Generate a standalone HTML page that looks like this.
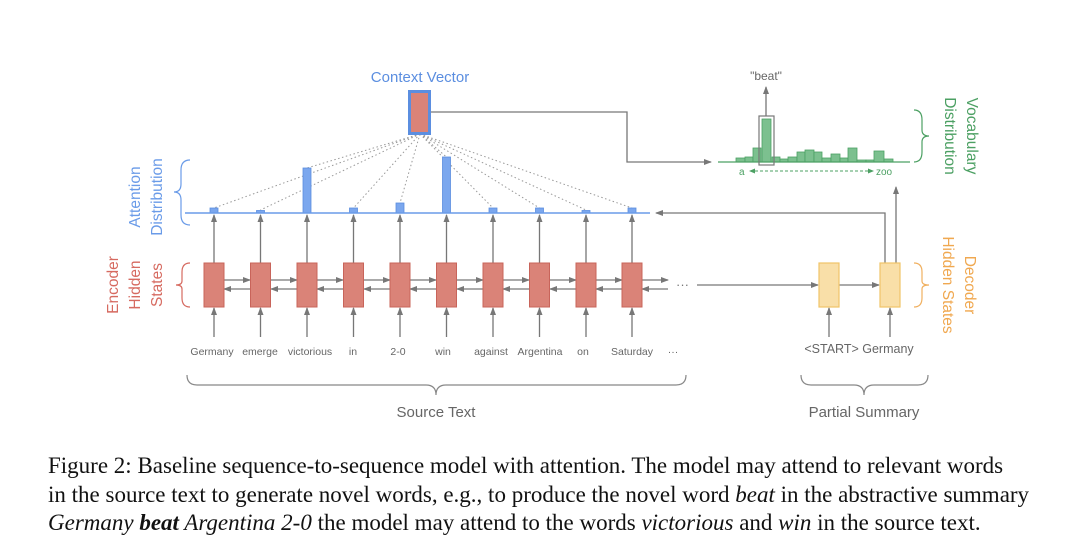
<!DOCTYPE html>
<html><head><meta charset="utf-8"><style>
body{margin:0;background:#fff;width:1080px;height:559px;overflow:hidden;}
svg{position:absolute;left:0;top:0;}
.cap{position:absolute;left:48px;top:452px;font-family:"Liberation Serif",serif;font-size:23px;line-height:28.5px;color:#111;white-space:nowrap;}
</style></head><body>
<svg width="1080" height="559" viewBox="0 0 1080 559" font-family="Liberation Sans, sans-serif">
<defs>
<marker id="a" markerWidth="8" markerHeight="8" refX="7" refY="4" orient="auto" markerUnits="userSpaceOnUse"><path d="M0,1 L8,4 L0,7 z" fill="#777"/></marker>
<marker id="g" markerWidth="6" markerHeight="6" refX="5" refY="3" orient="auto" markerUnits="userSpaceOnUse"><path d="M0,0.5 L6,3 L0,5.5 z" fill="#4ca063"/></marker>
<marker id="gs" markerWidth="6" markerHeight="6" refX="1" refY="3" orient="auto" markerUnits="userSpaceOnUse"><path d="M6,0.5 L0,3 L6,5.5 z" fill="#4ca063"/></marker>
</defs>
<g stroke="#777" stroke-width="1.3" fill="none">
<g marker-end="url(#a)">
<line x1="214" y1="337" x2="214" y2="308"/><line x1="260.5" y1="337" x2="260.5" y2="308"/><line x1="307" y1="337" x2="307" y2="308"/><line x1="353.5" y1="337" x2="353.5" y2="308"/><line x1="400" y1="337" x2="400" y2="308"/><line x1="446.5" y1="337" x2="446.5" y2="308"/><line x1="493" y1="337" x2="493" y2="308"/><line x1="539.5" y1="337" x2="539.5" y2="308"/><line x1="586" y1="337" x2="586" y2="308"/><line x1="632" y1="337" x2="632" y2="308"/>
<line x1="214" y1="263" x2="214" y2="215"/><line x1="260.5" y1="263" x2="260.5" y2="215"/><line x1="307" y1="263" x2="307" y2="215"/><line x1="353.5" y1="263" x2="353.5" y2="215"/><line x1="400" y1="263" x2="400" y2="215"/><line x1="446.5" y1="263" x2="446.5" y2="215"/><line x1="493" y1="263" x2="493" y2="215"/><line x1="539.5" y1="263" x2="539.5" y2="215"/><line x1="586" y1="263" x2="586" y2="215"/><line x1="632" y1="263" x2="632" y2="215"/>
<line x1="224" y1="280" x2="250" y2="280"/><line x1="271" y1="280" x2="297" y2="280"/><line x1="317" y1="280" x2="343" y2="280"/><line x1="364" y1="280" x2="390" y2="280"/><line x1="410" y1="280" x2="436" y2="280"/><line x1="457" y1="280" x2="483" y2="280"/><line x1="503" y1="280" x2="529" y2="280"/><line x1="550" y1="280" x2="576" y2="280"/><line x1="596" y1="280" x2="622" y2="280"/><line x1="642" y1="280" x2="668" y2="280"/>
<line x1="250" y1="289" x2="224" y2="289"/><line x1="297" y1="289" x2="271" y2="289"/><line x1="343" y1="289" x2="317" y2="289"/><line x1="390" y1="289" x2="364" y2="289"/><line x1="436" y1="289" x2="410" y2="289"/><line x1="483" y1="289" x2="457" y2="289"/><line x1="529" y1="289" x2="503" y2="289"/><line x1="576" y1="289" x2="550" y2="289"/><line x1="622" y1="289" x2="596" y2="289"/><line x1="668" y1="289" x2="642" y2="289"/>
<line x1="697" y1="285" x2="818" y2="285"/>
<line x1="839" y1="285" x2="879" y2="285"/>
<line x1="829" y1="337" x2="829" y2="308"/><line x1="890" y1="337" x2="890" y2="308"/>
<polyline points="885,263 885,213 656,213"/>
<line x1="896" y1="263" x2="896" y2="187"/>
<polyline points="430,112 627,112 627,162 711,162"/>
<line x1="766" y1="116" x2="766" y2="87"/>
</g>
</g>
<g stroke="#999" stroke-width="1" stroke-dasharray="1.5,2.5">
<line x1="420" y1="134" x2="214" y2="208"/><line x1="420" y1="134" x2="260.5" y2="210"/><line x1="420" y1="134" x2="307" y2="168"/><line x1="420" y1="134" x2="353.5" y2="208"/><line x1="420" y1="134" x2="400" y2="203"/><line x1="420" y1="134" x2="446.5" y2="157"/><line x1="420" y1="134" x2="493" y2="208"/><line x1="420" y1="134" x2="539.5" y2="208"/><line x1="420" y1="134" x2="586" y2="210"/><line x1="420" y1="134" x2="632" y2="208"/>
</g>
<g fill="#7ba7ee" stroke="#5b8ee0" stroke-width="0.8">
<rect x="210" y="208" width="8" height="5"/><rect x="256.5" y="210.5" width="8" height="2.5"/><rect x="303" y="168" width="8" height="45"/><rect x="349.5" y="208" width="8" height="5"/><rect x="396" y="203" width="8" height="10"/><rect x="442.5" y="157" width="8" height="56"/><rect x="489" y="208" width="8" height="5"/><rect x="535.5" y="208" width="8" height="5"/><rect x="582" y="210.5" width="8" height="2.5"/><rect x="628" y="208" width="8" height="5"/>
</g>
<line x1="185" y1="213" x2="650" y2="213" stroke="#6a9be8" stroke-width="1.5"/>
<g fill="#da8378" stroke="#c8645a" stroke-width="1">
<rect x="204" y="263" width="20" height="44"/><rect x="250.5" y="263" width="20" height="44"/><rect x="297" y="263" width="20" height="44"/><rect x="343.5" y="263" width="20" height="44"/><rect x="390" y="263" width="20" height="44"/><rect x="436.5" y="263" width="20" height="44"/><rect x="483" y="263" width="20" height="44"/><rect x="529.5" y="263" width="20" height="44"/><rect x="576" y="263" width="20" height="44"/><rect x="622" y="263" width="20" height="44"/>
</g>
<text x="676" y="289" font-size="13" fill="#777">···</text>
<g fill="#f9dfa8" stroke="#f0c468" stroke-width="1.2">
<rect x="819" y="263" width="20" height="44"/><rect x="880" y="263" width="20" height="44"/>
</g>
<rect x="409.5" y="91.5" width="20" height="42" fill="#da8378" stroke="#5b8ee0" stroke-width="3"/>
<text x="420" y="82" font-size="15" fill="#5b8ee0" text-anchor="middle">Context Vector</text>
<g fill="#7cc08f" stroke="#4ca063" stroke-width="0.8">
<rect x="736" y="158" width="9" height="4"/><rect x="745" y="157" width="8" height="5"/><rect x="753" y="148" width="8" height="14"/><rect x="762" y="119" width="9" height="43"/><rect x="772" y="157" width="8" height="5"/><rect x="780" y="159" width="8" height="3"/><rect x="788" y="157" width="9" height="5"/><rect x="797" y="152" width="8" height="10"/><rect x="805" y="150" width="9" height="12"/><rect x="814" y="152" width="8" height="10"/><rect x="822" y="158" width="9" height="4"/><rect x="831" y="154" width="9" height="8"/><rect x="840" y="158" width="8" height="4"/><rect x="848" y="148" width="9" height="14"/><rect x="857" y="160" width="9" height="2"/><rect x="866" y="160" width="8" height="2"/><rect x="874" y="151" width="10" height="11"/><rect x="884" y="159" width="9" height="3"/>
</g>
<line x1="718" y1="162" x2="910" y2="162" stroke="#4ca063" stroke-width="1.3"/>
<rect x="759" y="116" width="15" height="49" fill="none" stroke="#777" stroke-width="1.2"/>
<text x="766" y="80" font-size="12" fill="#666" text-anchor="middle">"beat"</text>
<text x="739" y="175" font-size="10" fill="#4ca063">a</text>
<line x1="750" y1="171" x2="873" y2="171" stroke="#4ca063" stroke-width="1" stroke-dasharray="3,2" marker-start="url(#gs)" marker-end="url(#g)"/>
<text x="876" y="175" font-size="10" fill="#4ca063">zoo</text>
<g font-size="10.5" fill="#666" text-anchor="middle">
<text x="212" y="355">Germany</text><text x="260" y="355">emerge</text><text x="310" y="355">victorious</text><text x="353" y="355">in</text><text x="398" y="355">2-0</text><text x="443" y="355">win</text><text x="491" y="355">against</text><text x="540" y="355">Argentina</text><text x="583" y="355">on</text><text x="632" y="355">Saturday</text><text x="673" y="355">···</text>
</g>
<text x="859" y="353" font-size="12.5" fill="#666" text-anchor="middle">&lt;START&gt; Germany</text>
<g fill="none" stroke="#888" stroke-width="1.2">
<path d="M187,375 Q187,385 197,385 L426,385 Q436,385 436,395 Q436,385 446,385 L676,385 Q686,385 686,375"/>
<path d="M801,375 Q801,385 811,385 L854,385 Q864,385 864,395 Q864,385 874,385 L918,385 Q928,385 928,375"/>
</g>
<text x="436" y="417" font-size="15" fill="#666" text-anchor="middle">Source Text</text>
<text x="864" y="417" font-size="15" fill="#666" text-anchor="middle">Partial Summary</text>
<g fill="none" stroke-width="1.2">
<path d="M190,160 Q181,160 181,170 L181,184 Q181,192 174,192 Q181,192 181,200 L181,215 Q181,225 190,225" stroke="#6a9be8"/>
<path d="M190,263 Q182,263 182,272 L182,281 Q182,285 176,285 Q182,285 182,289 L182,298 Q182,307 190,307" stroke="#d66a60"/>
<path d="M914,110 Q922,110 922,120 L922,130 Q922,136 929,136 Q922,136 922,142 L922,152 Q922,162 914,162" stroke="#4ca063"/>
<path d="M914,263 Q922,263 922,272 L922,281 Q922,285 929,285 Q922,285 922,289 L922,298 Q922,307 914,307" stroke="#f0b060"/>
</g>
<g font-size="15.5" text-anchor="middle">
<g fill="#d66a60"><text transform="translate(118,285) rotate(-90)">Encoder</text><text transform="translate(140,285) rotate(-90)">Hidden</text><text transform="translate(162,285) rotate(-90)">States</text></g>
<g fill="#6a9be8"><text transform="translate(140,197) rotate(-90)">Attention</text><text transform="translate(162,197) rotate(-90)">Distribution</text></g>
<g fill="#4ca063"><text transform="translate(967,136) rotate(90)">Vocabulary</text><text transform="translate(945,136) rotate(90)">Distribution</text></g>
<g fill="#f0a850"><text transform="translate(965,285) rotate(90)">Decoder</text><text transform="translate(943,285) rotate(90)">Hidden States</text></g>
</g>
</svg>
<div class="cap">Figure 2: Baseline sequence-to-sequence model with attention. The model may attend to relevant words<br>in the source text to generate novel words, e.g., to produce the novel word <i>beat</i> in the abstractive summary<br><i>Germany <b>beat</b> Argentina 2-0</i> the model may attend to the words <i>victorious</i> and <i>win</i> in the source text.</div>
</body></html>
